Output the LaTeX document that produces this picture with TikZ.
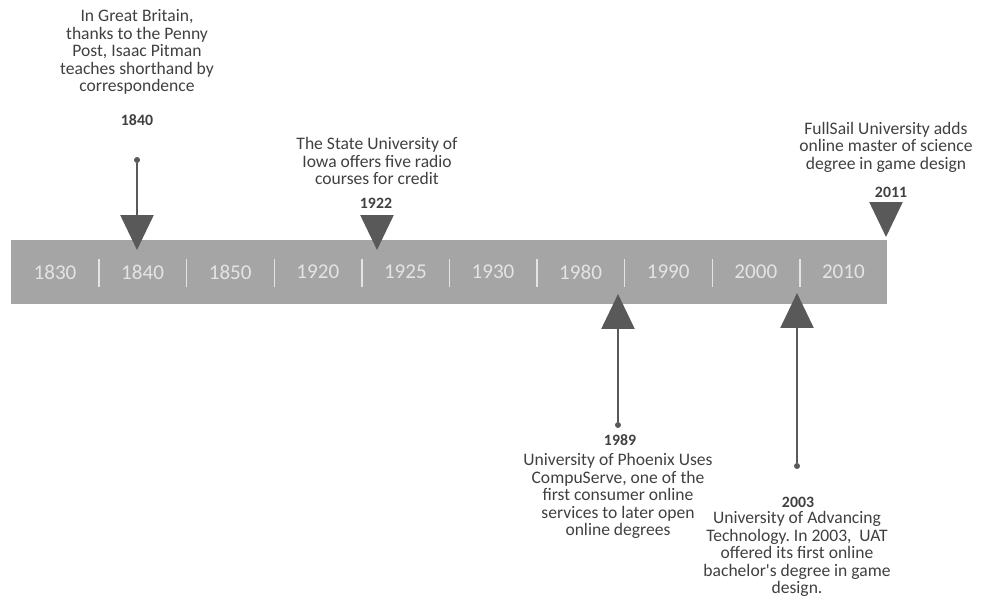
\documentclass[tikz,border=0pt]{standalone}
\usepackage{fontspec}
\setmainfont{Carlito}
\usetikzlibrary{arrows.meta,positioning,calc}
\definecolor{bargray}{HTML}{A5A5A5}
\definecolor{markgray}{HTML}{595959}
\definecolor{textgray}{HTML}{404040}
\definecolor{ticklight}{HTML}{E4E4E4}
\tikzset{
  bar/.style={rectangle,fill=bargray,minimum width=17.52cm,minimum height=1.28cm,inner sep=0pt},
  decade/.style={font=\fontsize{12}{12}\selectfont,text=ticklight,inner sep=0pt},
  divider/.style={draw=ticklight,line width=0.8pt},
  evtext/.style={font=\fontsize{10}{10}\selectfont\frenchspacing,text=textgray,align=center,inner sep=0pt},
  evyear/.style={font=\fontsize{9}{9}\selectfont\bfseries,text=textgray,inner sep=0pt},
  dot/.style={circle,fill=markgray,minimum size=0.12cm,inner sep=0pt},
  pin/.style={-{Triangle[length=0.7cm,width=0.66cm]},draw=markgray,fill=markgray,line width=1.4pt},
}

\begin{document}
\begin{tikzpicture}[x=0.02cm,y=-0.02cm]
  \useasboundingbox (0,0) rectangle (982,598);
  % timeline bar
  \node[bar] (bar) at (449,272) {};
  \foreach \yr [count=\i] in {1830,1840,1850,1920,1925,1930,1980,1990,2000,2010}
    \node[decade] (d\yr) at ({55+87.6*(\i-1)},272) {\yr};
  \foreach \i in {1,...,9}
    \draw[divider] ({99+87.6*(\i-1)},259) -- ({99+87.6*(\i-1)},287);

  % events above the bar
  \node[evtext] (t1840) at (137,52) {In Great Britain,\\thanks to the Penny\\Post, Isaac Pitman\\teaches shorthand by\\correspondence};
  \node[evyear] (y1840) at (137,120.5) {1840};
  \node[dot] (p1840) at (137,160) {};
  \coordinate (tip1840) at (137,250);
  \draw[pin] (p1840) -- (tip1840);

  \node[evtext] (t1922) at (377,161) {The State University of\\Iowa offers five radio\\courses for credit};
  \node[evyear] (y1922) at (376,203) {1922};
  \coordinate (base1922) at (377,215);
  \coordinate (tip1922) at (377,250);
  \draw[pin] (base1922) -- (tip1922);

  \node[evtext] (t2011) at (886,147) {FullSail University adds\\online master of science\\degree in game design};
  \node[evyear] (y2011) at (891,192.5) {2011};
  \coordinate (base2011) at (886,202);
  \coordinate (tip2011) at (886,237);
  \draw[pin] (base2011) -- (tip2011);

  % events below the bar
  \node[dot] (p1989) at (618,425) {};
  \coordinate (tip1989) at (618,294);
  \draw[pin] (p1989) -- (tip1989);
  \node[evyear] (y1989) at (620,440) {1989};
  \node[evtext] (t1989) at (618,496) {University of Phoenix Uses\\CompuServe, one of the\\first consumer online\\services to later open\\online degrees};

  \node[dot] (p2003) at (797,466) {};
  \coordinate (tip2003) at (797,293);
  \draw[pin] (p2003) -- (tip2003);
  \node[evyear] (y2003) at (798,502) {2003};
  \node[evtext] (t2003) at (797,554) {University of Advancing\\Technology. In 2003,~ UAT\\offered its first online\\bachelor\textquotesingle s degree in game\\design.};
\end{tikzpicture}
\end{document}
